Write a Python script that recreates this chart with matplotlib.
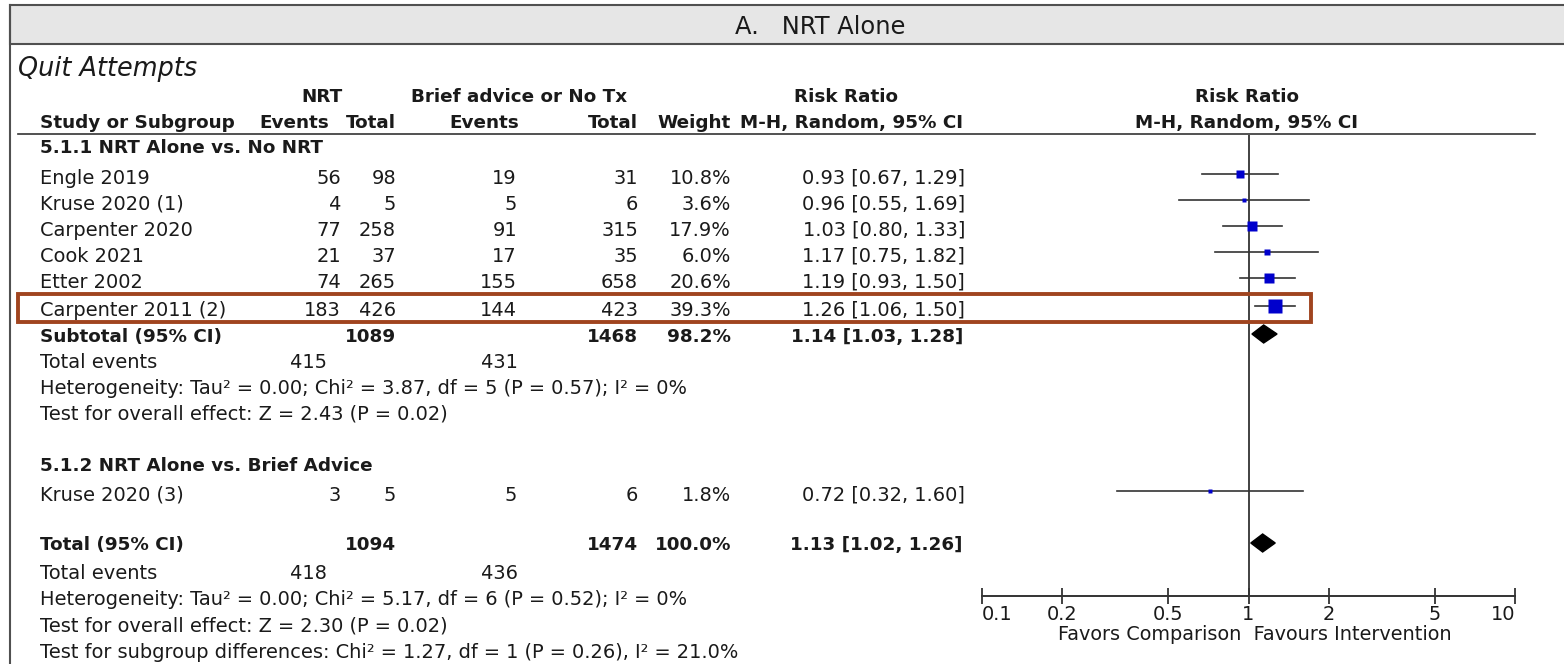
import numpy as np
import matplotlib
matplotlib.use("Agg")
import matplotlib.pyplot as plt
from matplotlib.patches import Rectangle, Polygon

plt.rcParams['font.family'] = ['DejaVu Sans']

# ---- data -------------------------------------------------------------
studies_1 = ["Engle 2019", "Kruse 2020 (1)", "Carpenter 2020", "Cook 2021",
             "Etter 2002", "Carpenter 2011 (2)"]
nrt_events_1 = [56, 4, 77, 21, 74, 183]
nrt_total_1 = [98, 5, 258, 37, 265, 426]
ctl_events_1 = [19, 5, 91, 17, 155, 144]
ctl_total_1 = [31, 6, 315, 35, 658, 423]
weight_1 = [10.8, 3.6, 17.9, 6.0, 20.6, 39.3]
rr_1 = [0.93, 0.96, 1.03, 1.17, 1.19, 1.26]
lo_1 = [0.67, 0.55, 0.80, 0.75, 0.93, 1.06]
hi_1 = [1.29, 1.69, 1.33, 1.82, 1.50, 1.50]

sub1_totals = [1089, 1468]
sub1_weight = 98.2
sub1_rr = [1.14, 1.03, 1.28]
sub1_events = [415, 431]
sub1_het = "Heterogeneity: Tau² = 0.00; Chi² = 3.87, df = 5 (P = 0.57); I² = 0%"
sub1_test = "Test for overall effect: Z = 2.43 (P = 0.02)"

studies_2 = ["Kruse 2020 (3)"]
nrt_events_2 = [3]
nrt_total_2 = [5]
ctl_events_2 = [5]
ctl_total_2 = [6]
weight_2 = [1.8]
rr_2 = [0.72]
lo_2 = [0.32]
hi_2 = [1.60]

total_totals = [1094, 1474]
total_weight = 100.0
total_rr = [1.13, 1.02, 1.26]
total_events = [418, 436]
total_het = "Heterogeneity: Tau² = 0.00; Chi² = 5.17, df = 6 (P = 0.52); I² = 0%"
total_test = "Test for overall effect: Z = 2.30 (P = 0.02)"
subgroup_test = "Test for subgroup differences: Chi² = 1.27, df = 1 (P = 0.26), I² = 21.0%"

tick_values = [0.1, 0.2, 0.5, 1, 2, 5, 10]
tick_labels = ["0.1", "0.2", "0.5", "1", "2", "5", "10"]

panel_title = "A.   NRT Alone"
outcome_title = "Quit Attempts"
axis_caption = "Favors Comparison  Favours Intervention"

# ---- figure / layout (pixel units) ------------------------------------
W, H = 1564, 664
TXT = '#1a1a1a'
LINE = '#333333'
BLUE = '#0000CC'

fig = plt.figure(figsize=(W / 100, H / 100), dpi=100)
renderer = fig.canvas.get_renderer()


def size_for_width(s, width_px, weight='normal', style='normal'):
    """Font size (pt) at which string s spans width_px pixels."""
    t = fig.text(0, 0, s, fontsize=10, fontweight=weight, fontstyle=style)
    w = t.get_window_extent(renderer).width
    t.remove()
    return 10 * width_px / w


FS = size_for_width(sub1_het, 644)
FS_B = 0.95 * FS
FS_TITLE = size_for_width(panel_title, 170)
FS_OUT = size_for_width(outcome_title, 179, style='italic')
FS_CAP = size_for_width(axis_caption, 394)

bg = fig.add_axes([0, 0, 1, 1])
bg.set_xlim(0, W)
bg.set_ylim(H, 0)
bg.axis('off')


def txt(x, yc, s, ha='left', bold=False, size=None, style='normal'):
    if size is None:
        size = FS_B if bold else FS
    # yc is the vertical centre of the capitals
    bg.text(x, yc + 0.5 * size, s, ha=ha, va='baseline',
            fontsize=size, fontweight='bold' if bold else 'normal',
            fontstyle=style, color=TXT)


# title band
bg.add_patch(Rectangle((10, 5), W, 39, facecolor='#E6E6E6', edgecolor='#505050',
                       lw=1.5))
bg.plot([10, 10], [5, H], color='#505050', lw=1.5)
txt(820, 25, panel_title, ha='center', size=FS_TITLE)
txt(18, 67, outcome_title, size=FS_OUT, style='italic')

# column positions
X_NAME = 40
X_E1, X_T1, X_E2, X_T2, X_W, X_CI = 341, 396, 517, 638, 731, 965

# header
txt(322, 95, "NRT", ha='center', bold=True)
txt(519, 95, "Brief advice or No Tx", ha='center', bold=True)
txt(846, 95, "Risk Ratio", ha='center', bold=True)
txt(1247, 95, "Risk Ratio", ha='center', bold=True)
txt(X_NAME, 121, "Study or Subgroup", bold=True)
txt(329, 121, "Events", ha='right', bold=True)
txt(X_T1, 121, "Total", ha='right', bold=True)
txt(519, 121, "Events", ha='right', bold=True)
txt(X_T2, 121, "Total", ha='right', bold=True)
txt(X_W, 121, "Weight", ha='right', bold=True)
txt(852, 121, "M-H, Random, 95% CI", ha='center', bold=True)
txt(1247, 121, "M-H, Random, 95% CI", ha='center', bold=True)
bg.plot([18, 1535], [134, 134], color=LINE, lw=1.2)

# row centres
rows_1 = [177, 203, 229, 255, 281, 309]
Y_G1, Y_SUB, Y_EV1, Y_HET1, Y_TEST1 = 146, 335, 361, 387, 413
Y_G2 = 464
rows_2 = [494]
Y_TOT, Y_EV2, Y_HET2, Y_TEST2, Y_SUBG = 543, 572, 598, 625, 651


def study_rows(names, e1, t1, e2, t2, w, rr, lo, hi, ys):
    for i, y in enumerate(ys):
        txt(X_NAME, y, names[i])
        txt(X_E1, y, str(e1[i]), ha='right')
        txt(X_T1, y, str(t1[i]), ha='right')
        txt(X_E2, y, str(e2[i]), ha='right')
        txt(X_T2, y, str(t2[i]), ha='right')
        txt(X_W, y, f"{w[i]:.1f}%", ha='right')
        txt(X_CI, y, f"{rr[i]:.2f} [{lo[i]:.2f}, {hi[i]:.2f}]", ha='right')


txt(X_NAME, Y_G1, "5.1.1 NRT Alone vs. No NRT", bold=True)
study_rows(studies_1, nrt_events_1, nrt_total_1, ctl_events_1, ctl_total_1,
           weight_1, rr_1, lo_1, hi_1, rows_1)
txt(X_NAME, Y_SUB, "Subtotal (95% CI)", bold=True)
txt(X_T1, Y_SUB, str(sub1_totals[0]), ha='right', bold=True)
txt(X_T2, Y_SUB, str(sub1_totals[1]), ha='right', bold=True)
txt(X_W, Y_SUB, f"{sub1_weight:.1f}%", ha='right', bold=True)
txt(963, Y_SUB, f"{sub1_rr[0]:.2f} [{sub1_rr[1]:.2f}, {sub1_rr[2]:.2f}]", ha='right', bold=True)
txt(X_NAME, Y_EV1, "Total events")
txt(327, Y_EV1, str(sub1_events[0]), ha='right')
txt(518, Y_EV1, str(sub1_events[1]), ha='right')
txt(X_NAME, Y_HET1, sub1_het)
txt(X_NAME, Y_TEST1, sub1_test)

txt(X_NAME, Y_G2, "5.1.2 NRT Alone vs. Brief Advice", bold=True)
study_rows(studies_2, nrt_events_2, nrt_total_2, ctl_events_2, ctl_total_2,
           weight_2, rr_2, lo_2, hi_2, rows_2)

txt(X_NAME, Y_TOT, "Total (95% CI)", bold=True)
txt(X_T1, Y_TOT, str(total_totals[0]), ha='right', bold=True)
txt(X_T2, Y_TOT, str(total_totals[1]), ha='right', bold=True)
txt(X_W, Y_TOT, f"{total_weight:.1f}%", ha='right', bold=True)
txt(963, Y_TOT, f"{total_rr[0]:.2f} [{total_rr[1]:.2f}, {total_rr[2]:.2f}]", ha='right', bold=True)
txt(X_NAME, Y_EV2, "Total events")
txt(327, Y_EV2, str(total_events[0]), ha='right')
txt(518, Y_EV2, str(total_events[1]), ha='right')
txt(X_NAME, Y_HET2, total_het)
txt(X_NAME, Y_TEST2, total_test)
txt(X_NAME, Y_SUBG, subgroup_test)

# ---- forest panel -----------------------------------------------------
AX_L, AX_R, AX_T, AX_B = 982, 1515, 135, 596
fa = fig.add_axes([AX_L / W, (H - AX_B) / H, (AX_R - AX_L) / W, (AX_B - AX_T) / H])
fa.set_xscale('log')
fa.set_xlim(0.1, 10)
fa.set_ylim(AX_B, AX_T)
fa.patch.set_alpha(0)
for s in ['top', 'left', 'right']:
    fa.spines[s].set_visible(False)
fa.spines['bottom'].set_color(LINE)
fa.spines['bottom'].set_linewidth(1.4)
fa.set_yticks([])
fa.minorticks_off()
fa.set_xticks(tick_values)
fa.set_xticklabels(tick_labels, fontsize=FS_CAP, color=TXT)
fa.tick_params(axis='x', direction='inout', length=11, width=1.3, color=LINE, pad=1)
labs = fa.get_xticklabels()
labs[0].set_ha('left')
labs[-1].set_ha('right')

# line of no effect
fa.plot([1, 1], [AX_T, AX_B], color=LINE, lw=1.3, zorder=1)


def forest(rr, lo, hi, w, ys):
    for i, y in enumerate(ys):
        ym = y - 3
        fa.plot([lo[i], hi[i]], [ym, ym], color=LINE, lw=1.2, zorder=2)
        side_px = 2.25 * np.sqrt(w[i])
        fa.plot(rr[i], ym, marker='s', ms=side_px * 0.72, color=BLUE,
                mec='none', zorder=3)


def diamond(vals, y, half=9):
    est, lo, hi = vals
    fa.add_patch(Polygon([(lo, y), (est, y - half), (hi, y), (est, y + half)],
                         closed=True, facecolor='black', edgecolor='black', zorder=3))


forest(rr_1, lo_1, hi_1, weight_1, rows_1)
diamond(sub1_rr, Y_SUB - 1)
forest(rr_2, lo_2, hi_2, weight_2, rows_2)
diamond(total_rr, Y_TOT)

fig.text(1255 / W, 1 - 634 / H, axis_caption,
         ha='center', va='center', fontsize=FS_CAP, color=TXT)

# highlight around Carpenter 2011
fa.add_patch(Rectangle((18, 294), 1311 - 18, 28, transform=bg.transData,
                       fill=False, edgecolor='#A0441F', lw=2.8, clip_on=False, zorder=5))

fig.savefig("out.png", dpi=100)
